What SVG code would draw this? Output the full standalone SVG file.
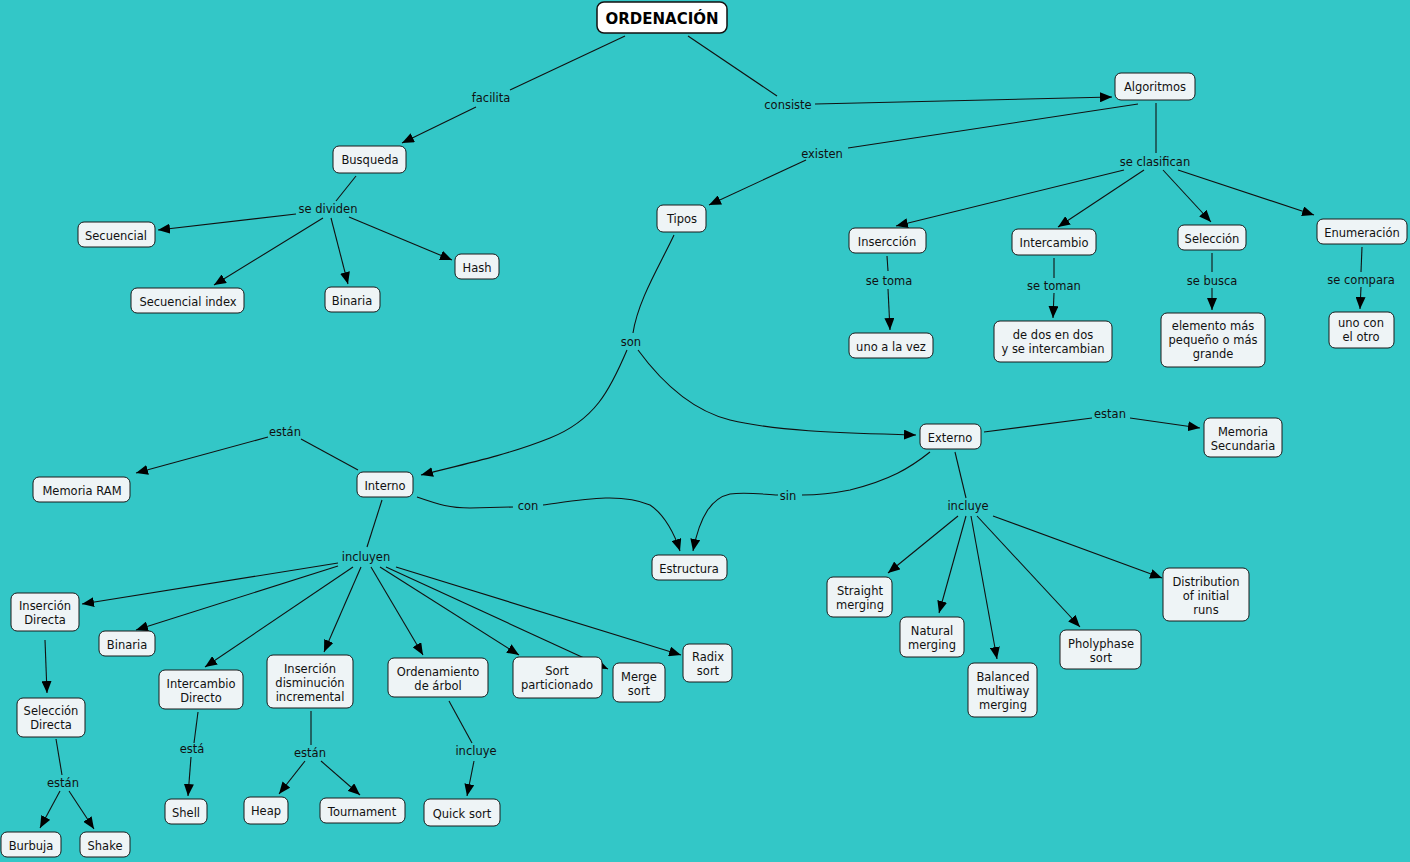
<svg xmlns="http://www.w3.org/2000/svg" width="1410" height="862" viewBox="0 0 1410 862">
<style>
.bg{fill:#33c7c7}
.n rect{fill:#eef4f6;stroke:#1a1a1a;stroke-width:1}
.n text,.lbl{font-family:"DejaVu Sans","Liberation Sans",sans-serif;font-size:11.5px;fill:#111;text-anchor:middle}
.root rect{fill:#ffffff;stroke:#111;stroke-width:1.5}
.root text{font-family:"DejaVu Sans","Liberation Sans",sans-serif;font-size:15px;font-weight:bold;fill:#000;text-anchor:middle}
.c path{fill:none;stroke:#111;stroke-width:1.1}
.c path.a{marker-end:url(#arr)}
</style>
<defs>
<marker id="arr" viewBox="0 0 12 10" refX="12" refY="5" markerWidth="12" markerHeight="10" markerUnits="userSpaceOnUse" orient="auto"><path d="M0,0 L12,5 L0,10 z" fill="#000"/></marker>
</defs>
<rect class="bg" x="0" y="0" width="1410" height="862"/>
<g id="connectors" class="c">
<path d="M625,36 L510,90"/>
<path class="a" d="M476,107 L402,143"/>
<path d="M688,36 L777,96"/>
<path class="a" d="M815,104 L1112,97"/>
<path d="M1138,104 L848,148"/>
<path class="a" d="M806,160 L709,205"/>
<path d="M1156,103 L1156,153"/>
<path class="a" d="M1124,170 L896,226"/>
<path class="a" d="M1144,170 L1058,227"/>
<path class="a" d="M1163,170 L1211,222"/>
<path class="a" d="M1178,170 L1314,215"/>
<path d="M887,256 L888,271"/>
<path class="a" d="M888,289 L890,330"/>
<path d="M1054,258 L1054,278"/>
<path class="a" d="M1054,293 L1053,318"/>
<path d="M1212,253 L1212,272"/>
<path class="a" d="M1212,288 L1212,310"/>
<path d="M1362,247 L1361,272"/>
<path class="a" d="M1361,287 L1360,309"/>
<path d="M356,176 L336,201"/>
<path class="a" d="M296,214 L158,230"/>
<path class="a" d="M323,218 L214,285"/>
<path class="a" d="M331,218 L348,284"/>
<path class="a" d="M349,217 L452,260"/>
<path d="M674,235 C660,265 638,300 633,333"/>
<path class="a" d="M627,350 C610,390 595,420 550,438 C505,456 460,465 421,475"/>
<path class="a" d="M638,350 C660,380 690,410 730,420 C780,432 850,433 916,435"/>
<path d="M358,470 L301,439"/>
<path class="a" d="M268,437 L136,473"/>
<path d="M417,497 C440,505 450,508 470,508 L513,507"/>
<path class="a" d="M543,505 C580,500 620,492 650,505 C665,515 675,535 680,551"/>
<path d="M930,452 C910,468 890,480 850,490 C830,494 815,495 802,495"/>
<path class="a" d="M778,495 C760,494 745,492 730,494 C712,498 700,515 693,551"/>
<path d="M984,432 L1092,418"/>
<path class="a" d="M1130,418 L1200,428"/>
<path d="M955,452 L966,498"/>
<path class="a" d="M958,516 L888,573"/>
<path class="a" d="M966,516 L939,613"/>
<path class="a" d="M971,516 L997,659"/>
<path class="a" d="M977,516 L1080,627"/>
<path class="a" d="M993,516 L1162,578"/>
<path d="M382,500 L367,547"/>
<path class="a" d="M338,563 L82,604"/>
<path class="a" d="M338,566 L136,630"/>
<path class="a" d="M353,567 L205,667"/>
<path class="a" d="M361,567 L324,652"/>
<path class="a" d="M371,567 L423,655"/>
<path class="a" d="M380,567 L519,655"/>
<path class="a" d="M386,567 L608,669"/>
<path class="a" d="M396,567 L681,655"/>
<path class="a" d="M45,640 L47,693"/>
<path d="M56,739 L62,775"/>
<path class="a" d="M60,791 L40,828"/>
<path class="a" d="M69,791 L94,829"/>
<path d="M198,712 L194,743"/>
<path class="a" d="M191,757 L188,796"/>
<path d="M311,711 L311,745"/>
<path class="a" d="M305,761 L279,794"/>
<path class="a" d="M321,761 L360,795"/>
<path d="M449,701 L472,743"/>
<path class="a" d="M474,761 L467,796"/>
</g>
<g id="labels">
<text class="lbl" x="491" y="102">facilita</text>
<text class="lbl" x="788" y="109">consiste</text>
<text class="lbl" x="822" y="158">existen</text>
<text class="lbl" x="1155" y="166">se clasifican</text>
<text class="lbl" x="328" y="213">se dividen</text>
<text class="lbl" x="889" y="285">se toma</text>
<text class="lbl" x="1054" y="290">se toman</text>
<text class="lbl" x="1212" y="285">se busca</text>
<text class="lbl" x="1361" y="284">se compara</text>
<text class="lbl" x="631" y="346">son</text>
<text class="lbl" x="285" y="436">están</text>
<text class="lbl" x="1110" y="418">estan</text>
<text class="lbl" x="528" y="510">con</text>
<text class="lbl" x="788" y="500">sin</text>
<text class="lbl" x="366" y="561">incluyen</text>
<text class="lbl" x="968" y="510">incluye</text>
<text class="lbl" x="192" y="753">está</text>
<text class="lbl" x="310" y="757">están</text>
<text class="lbl" x="63" y="787">están</text>
<text class="lbl" x="476" y="755">incluye</text>
</g>
<g id="n-ordenacion" class="root"><rect x="597" y="2" width="130" height="31" rx="7"/><text x="662" y="24">ORDENACIÓN</text></g>
<g id="n-algoritmos" class="n"><rect x="1115" y="73" width="80" height="27" rx="6"/><text x="1155" y="91">Algoritmos</text></g>
<g id="n-busqueda" class="n"><rect x="333" y="146" width="73" height="27" rx="6"/><text x="370" y="164">Busqueda</text></g>
<g id="n-tipos" class="n"><rect x="657" y="205" width="49" height="27" rx="6"/><text x="682" y="223">Tipos</text></g>
<g id="n-secuencial" class="n"><rect x="78" y="222" width="77" height="25" rx="6"/><text x="116" y="240">Secuencial</text></g>
<g id="n-hash" class="n"><rect x="455" y="254" width="44" height="25" rx="6"/><text x="477" y="272">Hash</text></g>
<g id="n-secuencial-index" class="n"><rect x="131" y="288" width="113" height="25" rx="6"/><text x="188" y="306">Secuencial index</text></g>
<g id="n-binaria1" class="n"><rect x="325" y="287" width="55" height="25" rx="6"/><text x="352" y="305">Binaria</text></g>
<g id="n-insercion" class="n"><rect x="849" y="228" width="77" height="25" rx="6"/><text x="887" y="246">Insercción</text></g>
<g id="n-intercambio" class="n"><rect x="1012" y="229" width="84" height="26" rx="6"/><text x="1054" y="247">Intercambio</text></g>
<g id="n-seleccion" class="n"><rect x="1178" y="225" width="68" height="25" rx="6"/><text x="1212" y="243">Selección</text></g>
<g id="n-enumeracion" class="n"><rect x="1317" y="219" width="90" height="25" rx="6"/><text x="1362" y="237">Enumeración</text></g>
<g id="n-uno-vez" class="n"><rect x="849" y="333" width="84" height="25" rx="6"/><text x="891" y="351">uno a la vez</text></g>
<g id="n-dos-en-dos" class="n"><rect x="994" y="321" width="118" height="41" rx="6"/><text x="1053" y="339">de dos en dos<tspan x="1053" dy="14">y se intercambian</tspan></text></g>
<g id="n-elemento" class="n"><rect x="1161" y="313" width="104" height="54" rx="6"/><text x="1213" y="330">elemento más<tspan x="1213" dy="14">pequeño o más</tspan><tspan x="1213" dy="14">grande</tspan></text></g>
<g id="n-uno-con" class="n"><rect x="1329" y="312" width="65" height="36" rx="6"/><text x="1361" y="327">uno con<tspan x="1361" dy="14">el otro</tspan></text></g>
<g id="n-memoria-ram" class="n"><rect x="33" y="477" width="97" height="25" rx="6"/><text x="82" y="495">Memoria RAM</text></g>
<g id="n-interno" class="n"><rect x="357" y="472" width="56" height="25" rx="6"/><text x="385" y="490">Interno</text></g>
<g id="n-externo" class="n"><rect x="920" y="424" width="61" height="25" rx="6"/><text x="950" y="442">Externo</text></g>
<g id="n-memoria-sec" class="n"><rect x="1204" y="418" width="78" height="39" rx="6"/><text x="1243" y="436">Memoria<tspan x="1243" dy="14">Secundaria</tspan></text></g>
<g id="n-estructura" class="n"><rect x="652" y="555" width="75" height="25" rx="6"/><text x="689" y="573">Estructura</text></g>
<g id="n-insercion-directa" class="n"><rect x="11" y="593" width="68" height="38" rx="6"/><text x="45" y="610">Inserción<tspan x="45" dy="14">Directa</tspan></text></g>
<g id="n-binaria2" class="n"><rect x="99" y="631" width="56" height="25" rx="6"/><text x="127" y="649">Binaria</text></g>
<g id="n-intercambio-directo" class="n"><rect x="159" y="670" width="84" height="39" rx="6"/><text x="201" y="688">Intercambio<tspan x="201" dy="14">Directo</tspan></text></g>
<g id="n-insercion-dism" class="n"><rect x="267" y="655" width="86" height="53" rx="6"/><text x="310" y="673">Inserción<tspan x="310" dy="14">disminución</tspan><tspan x="310" dy="14">incremental</tspan></text></g>
<g id="n-ordenamiento-arbol" class="n"><rect x="388" y="658" width="100" height="39" rx="6"/><text x="438" y="676">Ordenamiento<tspan x="438" dy="14">de árbol</tspan></text></g>
<g id="n-sort-particionado" class="n"><rect x="513" y="657" width="89" height="41" rx="6"/><text x="557" y="675">Sort<tspan x="557" dy="14">particionado</tspan></text></g>
<g id="n-merge-sort" class="n"><rect x="613" y="663" width="52" height="39" rx="6"/><text x="639" y="681">Merge<tspan x="639" dy="14">sort</tspan></text></g>
<g id="n-radix-sort" class="n"><rect x="683" y="644" width="49" height="38" rx="6"/><text x="708" y="661">Radix<tspan x="708" dy="14">sort</tspan></text></g>
<g id="n-seleccion-directa" class="n"><rect x="17" y="698" width="68" height="39" rx="6"/><text x="51" y="715">Selección<tspan x="51" dy="14">Directa</tspan></text></g>
<g id="n-shell" class="n"><rect x="165" y="799" width="42" height="25" rx="6"/><text x="186" y="817">Shell</text></g>
<g id="n-heap" class="n"><rect x="244" y="797" width="44" height="27" rx="6"/><text x="266" y="815">Heap</text></g>
<g id="n-tournament" class="n"><rect x="320" y="798" width="85" height="25" rx="6"/><text x="362" y="816">Tournament</text></g>
<g id="n-quick-sort" class="n"><rect x="424" y="799" width="76" height="27" rx="6"/><text x="462" y="818">Quick sort</text></g>
<g id="n-burbuja" class="n"><rect x="1" y="832" width="60" height="25" rx="6"/><text x="31" y="850">Burbuja</text></g>
<g id="n-shake" class="n"><rect x="80" y="832" width="50" height="25" rx="6"/><text x="105" y="850">Shake</text></g>
<g id="n-straight" class="n"><rect x="827" y="577" width="65" height="40" rx="6"/><text x="860" y="595">Straight<tspan x="860" dy="14">merging</tspan></text></g>
<g id="n-natural" class="n"><rect x="900" y="617" width="64" height="40" rx="6"/><text x="932" y="635">Natural<tspan x="932" dy="14">merging</tspan></text></g>
<g id="n-balanced" class="n"><rect x="968" y="663" width="69" height="54" rx="6"/><text x="1003" y="681">Balanced<tspan x="1003" dy="14">multiway</tspan><tspan x="1003" dy="14">merging</tspan></text></g>
<g id="n-pholyphase" class="n"><rect x="1060" y="630" width="81" height="39" rx="6"/><text x="1101" y="648">Pholyphase<tspan x="1101" dy="14">sort</tspan></text></g>
<g id="n-distribution" class="n"><rect x="1163" y="568" width="86" height="53" rx="6"/><text x="1206" y="586">Distribution<tspan x="1206" dy="14">of initial</tspan><tspan x="1206" dy="14">runs</tspan></text></g>
</svg>
